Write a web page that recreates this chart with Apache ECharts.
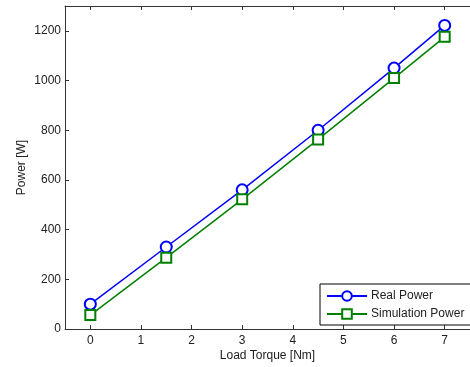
<!DOCTYPE html>
<html><head><meta charset="utf-8">
<script src="https://cdn.jsdelivr.net/npm/echarts@6/dist/echarts.min.js"></script>
<style>html,body{margin:0;padding:0;background:#fff}#c{width:470px;height:367px}</style>
</head><body><div id="c"></div>
<script>
var torque = [0, 1.5, 3, 4.5, 6, 7];
var realPower = [100, 330, 560, 800, 1050, 1222];
var simPower = [56, 287, 522, 763, 1010, 1176];
var xTicks = [0, 1, 2, 3, 4, 5, 6, 7];
var yTicks = [0, 200, 400, 600, 800, 1000, 1200];

var chart = echarts.init(document.getElementById('c'), null, {renderer: 'canvas'});
var font = 'Arial, "Liberation Sans", sans-serif';
var tickStyle = function(vals){ return {show: true, customValues: vals, inside: true, length: 4, lineStyle: {color: '#333'}}; };
var lineSt = {show: true, onZero: false, lineStyle: {color: '#333', width: 1}};
chart.setOption({
  animation: false,
  backgroundColor: '#fff',
  grid: {left: 65, top: 6, right: -10.5, bottom: 38, containLabel: false},
  legend: {
    left: 320, top: 284, orient: 'vertical',
    data: ['Real Power', 'Simulation Power'],
    borderColor: '#000', borderWidth: 1, backgroundColor: '#fff',
    padding: [6, 30, 5, 6], itemGap: 6, itemWidth: 40, itemHeight: 12,
    textStyle: {fontFamily: font, fontSize: 12, color: '#222', padding: [0, 0, 0, -1]}
  },
  xAxis: [
    {type: 'value', min: -0.5, max: 7.5, position: 'bottom',
      name: 'Load Torque [Nm]', nameLocation: 'middle', nameGap: 21, nameMoveOverlap: false,
      nameTextStyle: {fontFamily: font, fontSize: 12, color: '#222'},
      axisLine: lineSt, splitLine: {show: false}, axisTick: tickStyle(xTicks),
      axisLabel: {customValues: xTicks, fontFamily: font, fontSize: 12, color: '#222', margin: 6}
    },
    {type: 'value', min: -0.5, max: 7.5, position: 'top',
      axisLine: lineSt, splitLine: {show: false}, axisTick: tickStyle(xTicks),
      axisLabel: {show: false}
    }
  ],
  yAxis: [
    {type: 'value', min: 0, max: 1300, position: 'left',
      name: 'Power [W]', nameLocation: 'middle', nameGap: 37, nameMoveOverlap: false,
      nameTextStyle: {fontFamily: font, fontSize: 12, color: '#222'},
      axisLine: lineSt, splitLine: {show: false}, axisTick: tickStyle(yTicks),
      axisLabel: {customValues: yTicks, fontFamily: font, fontSize: 12, color: '#222', margin: 4,
        formatter: function(v){ return String(v); }}
    }
  ],
  series: [
    {name: 'Real Power', type: 'line', xAxisIndex: 0,
     data: torque.map(function(t, i){ return [t, realPower[i]]; }),
     symbol: 'emptyCircle', symbolSize: 11, showAllSymbol: true,
     lineStyle: {color: '#0000ff', width: 1.5},
     itemStyle: {color: '#0000ff', borderColor: '#0000ff', borderWidth: 1.5}},
    {name: 'Simulation Power', type: 'line', xAxisIndex: 0,
     data: torque.map(function(t, i){ return [t, simPower[i]]; }),
     symbol: 'emptyRect', symbolSize: 10, showAllSymbol: true,
     lineStyle: {color: '#008000', width: 1.5},
     itemStyle: {color: '#008000', borderColor: '#008000', borderWidth: 1.5}}
  ]
});
</script></body></html>
